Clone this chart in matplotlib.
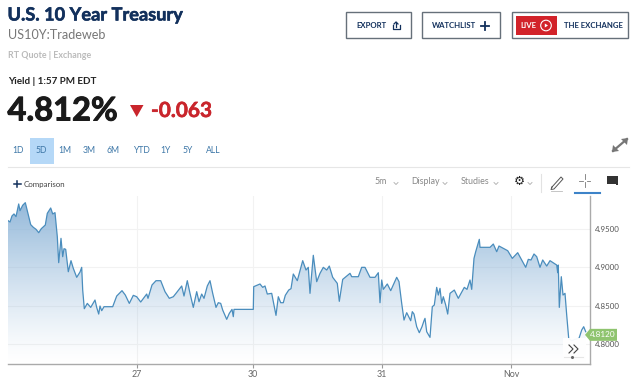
import matplotlib
matplotlib.use("Agg")
import matplotlib.pyplot as plt
import numpy as np
import matplotlib.patheffects as pe
from matplotlib.patches import Rectangle, Polygon, Circle

plt.rcParams['font.family'] = ['Lato', 'DejaVu Sans']

# chart position along the time axis, and the yield there
times = [8, 10, 12, 14, 16, 18.7, 20, 22.7, 25.3, 27.3, 30.7, 33.3, 36, 38.7, 41.3, 45.3, 47.3, 50.7, 52.7, 55,
         56, 57.3, 58.7, 61, 62.7, 64, 65.7, 68.3, 71, 73.3, 76.7, 80, 81.7, 82.7, 84.3, 87.3, 90.7, 95, 96.7, 98.7,
         100, 101.7, 104, 112.7, 116.7, 122, 125.3, 129.3, 133.3, 136.7, 140.7, 146.7, 148, 152, 156, 160.7, 165, 169.3, 173.3, 176,
         181.7, 184, 187.3, 190, 193.3, 196.7, 199, 201.7, 204, 207.3, 210, 212.7, 216, 218.3, 220.7, 222.7, 226.7, 229.3, 232, 233.3,
         234, 253.3, 253.7, 260, 262.7, 265, 267.3, 271.7, 274, 276, 278.3, 280.7, 283.3, 285.3, 288.7, 291, 293.3, 297.3, 302.7, 306,
         308.3, 310, 313.3, 316.7, 320, 323.3, 326.7, 329.3, 332.7, 337.3, 339.3, 342.7, 346.7, 350, 351.7, 358.3, 361.7, 365, 370, 375,
         378.3, 380, 381.7, 383.3, 387.3, 390.7, 396.7, 399, 401.7, 404, 406.7, 410.7, 412.3, 414, 416.7, 419.3, 422, 424, 425, 426.7,
         430, 432.3, 434.3, 436.7, 438.3, 440, 441.7, 443.3, 445.7, 447.7, 450, 454.3, 458.3, 464.3, 467, 470, 471.7, 474, 475.7, 479.3,
         480, 490, 493.3, 496.7, 499, 507.7, 512.3, 517.7, 525.7, 528.3, 531, 534, 536.7, 540, 542.7, 546.7, 550, 556.7, 557.7, 558.3,
         559.3, 561.3, 563, 565, 566.7, 568.7, 571.7, 575, 579, 581.7, 583.7, 585.7]
yields = [4.9609, 4.9591, 4.9670, 4.9696, 4.9661, 4.9826, 4.9739, 4.9809, 4.9843, 4.9739, 4.9557, 4.9522, 4.9496, 4.9452, 4.9504, 4.9552, 4.9704, 4.9774, 4.9696, 4.9713,
          4.9574, 4.9400, 4.9061, 4.9378, 4.9139, 4.9243, 4.9235, 4.8943, 4.9087, 4.8987, 4.8870, 4.8939, 4.9000, 4.8704, 4.8461, 4.8530, 4.8478, 4.8574, 4.8478, 4.8391,
          4.8496, 4.8435, 4.8487, 4.8487, 4.8626, 4.8696, 4.8639, 4.8530, 4.8635, 4.8617, 4.8548, 4.8652, 4.8596, 4.8770, 4.8826, 4.8826, 4.8683, 4.8596, 4.8617, 4.8661,
          4.8757, 4.8626, 4.8826, 4.8661, 4.8478, 4.8683, 4.8552, 4.8652, 4.8596, 4.8757, 4.8826, 4.8661, 4.8478, 4.8539, 4.8530, 4.8443, 4.8322, 4.8400, 4.8452, 4.8357,
          4.8452, 4.8452, 4.8748, 4.8783, 4.8739, 4.8757, 4.8652, 4.8661, 4.8509, 4.8374, 4.8617, 4.8539, 4.8539, 4.8635, 4.8704, 4.8722, 4.8913, 4.8826, 4.9087, 4.8965,
          4.9000, 4.8661, 4.9157, 4.8813, 4.8922, 4.9000, 4.8965, 4.9017, 4.8870, 4.8791, 4.8557, 4.8843, 4.8887, 4.8922, 4.8878, 4.8878, 4.9000, 4.9000, 4.8870, 4.8870,
          4.8930, 4.8539, 4.8835, 4.8713, 4.8783, 4.8696, 4.8870, 4.8813, 4.8530, 4.8313, 4.8409, 4.8304, 4.8422, 4.8391, 4.8226, 4.8148, 4.8226, 4.8304, 4.8335, 4.8161,
          4.8087, 4.8487, 4.8509, 4.8739, 4.8639, 4.8726, 4.8530, 4.8617, 4.8509, 4.8391, 4.8661, 4.8704, 4.8596, 4.8739, 4.8713, 4.8835, 4.8713, 4.9117, 4.9204, 4.9365,
          4.9261, 4.9261, 4.9304, 4.9204, 4.9278, 4.9217, 4.9117, 4.9191, 4.9000, 4.9104, 4.9096, 4.9174, 4.9139, 4.9000, 4.9096, 4.9017, 4.9087, 4.9030, 4.8930, 4.9030,
          4.8478, 4.8878, 4.8639, 4.8661, 4.8378, 4.8074, 4.8043, 4.8061, 4.8074, 4.8183, 4.8226, 4.8161]

y_ticks = [4.80, 4.85, 4.90, 4.95]
y_tick_labels = ['4.8000', '4.8500', '4.9000', '4.9500']
x_ticks = [137, 253, 382, 511]
x_tick_labels = ['27', '30', '31', 'Nov']
last_price = 4.812
ranges = ['1D', '5D', '1M', '3M', '6M', 'YTD', '1Y', '5Y', 'ALL']
range_x = [18.5, 41.5, 65, 89, 113.5, 141, 166, 188, 213.5]

W, H = 640, 385
NAVY = '#12305c'

fig = plt.figure(figsize=(W / 100, H / 100), dpi=100)
fig.patch.set_facecolor('white')

# price chart
ax = fig.add_axes([8 / W, 1 - 364 / H, (589.6 - 8) / W, (364 - 196) / H])
ax.set_xlim(8, 589.6)
ax.set_ylim(4.774, 4.993)
ax.set_axisbelow(True)
ax.grid(True, color='#f2f2f2', lw=0.8)
ax.set_xticks(x_ticks)
ax.set_xticklabels(x_tick_labels)
ax.set_yticks(y_ticks)
ax.set_yticklabels(y_tick_labels)
ax.yaxis.tick_right()
ax.tick_params(axis='x', length=3, width=0.8, color='#999999', labelcolor='#666666', labelsize=6.4, pad=1)
ax.tick_params(axis='y', length=0, labelcolor='#555555', labelsize=5.7, pad=4)
for s in ['top', 'left']:
    ax.spines[s].set_visible(False)
for s in ['bottom', 'right']:
    ax.spines[s].set_color('#aaaaaa')
    ax.spines[s].set_linewidth(1)

# gradient under the line
grad = np.linspace(0, 1, 256).reshape(-1, 1, 1)
top = np.array([0.56, 0.71, 0.85])
rgba = np.zeros((256, 1, 4))
rgba[:, :, :3] = top
rgba[:, :, 3] = (0.95 * (1 - grad[:, :, 0]) ** 1.25)
img = ax.imshow(rgba, extent=[8, 589.6, 4.774, 4.985], origin='upper', aspect='auto', zorder=1)
ax.set_xlim(8, 589.6)
ax.set_ylim(4.774, 4.993)
clip = Polygon(list(zip(times, yields)) + [(times[-1], 4.774), (times[0], 4.774)], closed=True,
               transform=ax.transData, fc='none', ec='none')
ax.add_patch(clip)
img.set_clip_path(clip)
ax.plot(times, yields, color='#4a8dbd', lw=0.9, zorder=3)

# full-figure layer in pixel coordinates for the page furniture
ui = fig.add_axes([0, 0, 1, 1], zorder=5)
ui.set_xlim(0, W)
ui.set_ylim(H, 0)
ui.axis('off')
ui.patch.set_alpha(0)

title = ui.text(7.5, 15, 'U.S. 10 Year Treasury', fontsize=13.1, fontweight='bold', color=NAVY, va='center')
title.set_path_effects([pe.withStroke(linewidth=0.4, foreground=NAVY)])
ui.text(8, 35, 'US10Y:Tradeweb', fontsize=9.1, color='#777777', va='center')
ui.text(8, 55, 'RT Quote | Exchange', fontsize=6.4, color='#bbbbbb', fontweight='bold', va='center')
ui.text(8, 82, 'Yield | 1:57 PM EDT', fontsize=7.1, color='#222222', fontweight='bold', va='center')
big = ui.text(7.5, 111, '4.812%', fontsize=23.5, color='#1a1a1a', fontweight='bold', va='center')
big.set_path_effects([pe.withStroke(linewidth=0.7, foreground='#1a1a1a')])
ui.add_patch(Polygon([(130, 105), (143.5, 105), (136.7, 117)], closed=True, fc='#c9252c', ec='none'))
chg = ui.text(151, 111, '-0.063', fontsize=15, color='#c9252c', fontweight='bold', va='center')
chg.set_path_effects([pe.withStroke(linewidth=0.4, foreground='#c9252c')])

# range selector
ui.add_patch(Rectangle((30, 138), 23.5, 25.5, fc='#b5d8f7', ec='none'))
for lab, x in zip(ranges, range_x):
    ui.text(x, 150.5, lab, fontsize=6.2, color='#3f78a8', ha='center', va='center')
ui.plot([8, 629], [166.5, 166.5], color='#e6e6e6', lw=0.8)
ui.plot([14, 20.5], [184, 184], color=NAVY, lw=1.1)
ui.plot([17.2, 17.2], [180.8, 187.2], color=NAVY, lw=1.1)
ui.text(24, 184, 'Comparison', fontsize=5.7, color='#444444', va='center')

# header buttons
for x0, x1 in [(346, 410.5), (422, 499.5), (511.5, 628)]:
    ui.add_patch(Rectangle((x0, 12), x1 - x0, 26, fc='white', ec='#66707a', lw=1))
ui.text(356.5, 25.5, 'EXPORT', fontsize=5.6, fontweight='bold', color=NAVY, va='center')
ui.plot([392.5, 392.5, 399.5, 399.5], [25, 28.5, 28.5, 25], color=NAVY, lw=0.9)
ui.plot([396, 396], [22, 27], color=NAVY, lw=0.9)
ui.plot([394, 396, 398], [24, 22, 24], color=NAVY, lw=0.9)
ui.text(432, 25.5, 'WATCHLIST', fontsize=5.6, fontweight='bold', color=NAVY, va='center')
ui.plot([481, 489], [25.5, 25.5], color=NAVY, lw=1.3)
ui.plot([485, 485], [21.5, 29.5], color=NAVY, lw=1.3)
ui.add_patch(Rectangle((515.5, 16), 41, 19, fc='#d2232a', ec='none'))
ui.text(520.5, 25.5, 'LIVE', fontsize=5.6, fontweight='bold', color='white', va='center')
ui.add_patch(Circle((546, 25.5), 5.3, fc='none', ec='white', lw=0.8))
ui.add_patch(Polygon([(544.8, 23.5), (548, 25.5), (544.8, 27.5)], closed=True, fc='white', ec='none'))
ui.text(564, 25.5, 'THE EXCHANGE', fontsize=5.6, fontweight='bold', color=NAVY, va='center')

# expand arrows
ui.plot([613, 627], [151, 139], color='#777777', lw=1.6)
ui.add_patch(Polygon([(628, 138), (621, 139), (627, 145)], closed=True, fc='#777777', ec='none'))
ui.add_patch(Polygon([(612, 152), (619, 151), (613, 145)], closed=True, fc='#777777', ec='none'))

# toolbar
for x, lab in [(375, '5m'), (411, 'Display'), (461, 'Studies')]:
    ui.text(x, 182, lab, fontsize=6.4, color='#888888', va='center')
for x in [396, 445, 496, 530]:
    ui.plot([x - 2, x, x + 2], [182.5, 184.5, 182.5], color='#aaaaaa', lw=0.6)
ui.text(519.5, 181, '\u2699', fontsize=9, color='#222222', ha='center', va='center', family='DejaVu Sans')
ui.plot([540.5, 540.5], [174, 192], color='#e2e2e2', lw=0.8)
ui.plot([552, 561, 563, 554, 551, 552], [187, 177, 179, 189, 189.5, 187], color='#555555', lw=0.7)
ui.plot([551, 562], [191, 191], color='#bbbbbb', lw=0.6)
ui.plot([584.5, 584.5], [174, 179], color='#777777', lw=0.6)
ui.plot([584.5, 584.5], [182, 187], color='#777777', lw=0.6)
ui.plot([579, 582.5], [180.5, 180.5], color='#777777', lw=0.6)
ui.plot([586.5, 590], [180.5, 180.5], color='#777777', lw=0.6)
ui.plot([575, 600], [192.5, 192.5], color='#3d83c8', lw=1.5)
ui.add_patch(Polygon([(607, 176), (618, 176), (618, 185), (616, 185), (616, 183.5), (607, 183.5)],
                     closed=True, fc='#333333', ec='none'))

# last price tag, placed from the y scale of the chart
tag_y = H - ax.transData.transform((0, last_price))[1]
ui.add_patch(Polygon([(585, tag_y), (590, tag_y - 6), (617, tag_y - 6), (617, tag_y + 6), (590, tag_y + 6)],
                     closed=True, fc='#8fc46f', ec='none'))
ui.text(603, tag_y, '4.8120', fontsize=5.9, color='white', ha='center', va='center')

# scroll button over the line
ui.add_patch(Rectangle((563, 338), 23, 21, fc='white', ec='none', alpha=0.95))
ui.plot([569, 573, 569], [345, 349, 353], color='#444444', lw=0.8)
ui.plot([574, 578, 574], [345, 349, 353], color='#444444', lw=0.8)
ui.plot([564, 583], [356.5, 356.5], color='#e6e6e6', lw=0.8)
ui.plot([572], [357], marker='o', ms=1.2, color='#666666')

fig.savefig('out.png', dpi=100)
